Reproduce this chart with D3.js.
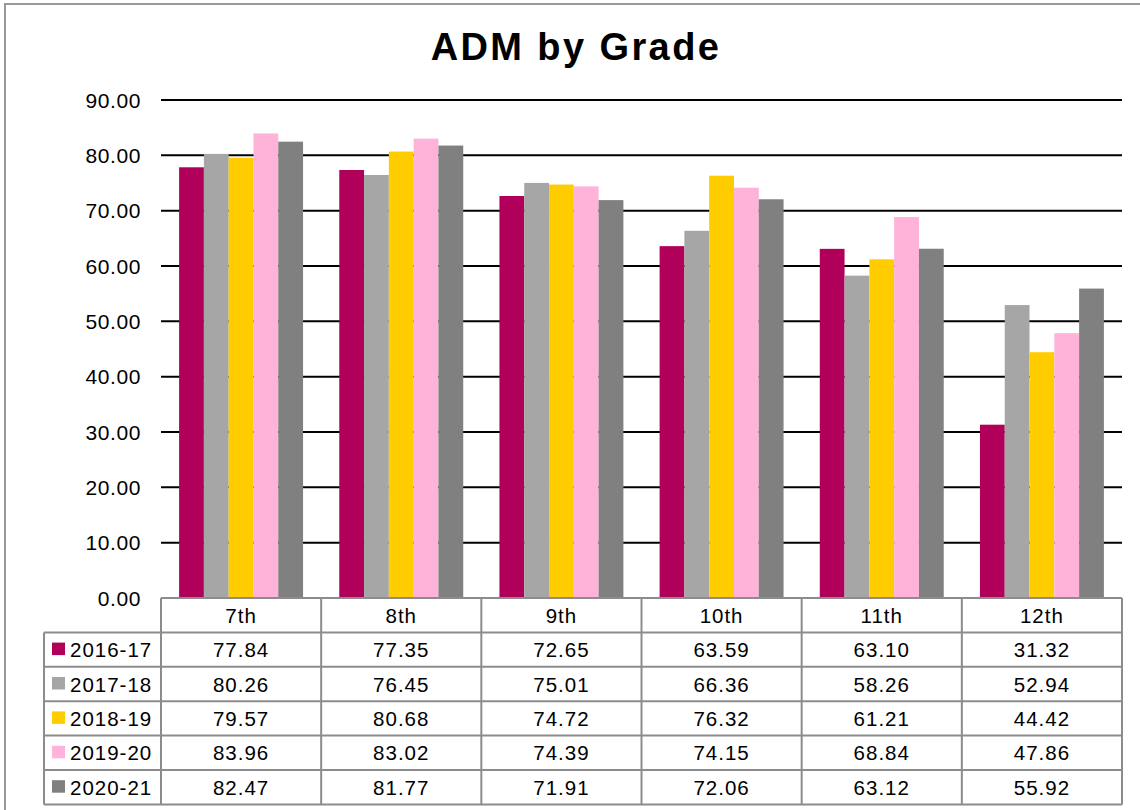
<!DOCTYPE html>
<html>
<head>
<meta charset="utf-8">
<script src="https://cdn.jsdelivr.net/npm/d3@7"></script>
<style>
  body { margin: 0; background: #fff; }
  svg { display: block; font-family: "Liberation Sans", Arial, sans-serif; }
</style>
</head>
<body>
<svg id="chart"></svg>
<script>
const grades = ["7th", "8th", "9th", "10th", "11th", "12th"];
const years = ["2016-17", "2017-18", "2018-19", "2019-20", "2020-21"];
const colors = ["#B0005A", "#A6A6A6", "#FFCC00", "#FFB3D9", "#808080"];
const v2016 = [77.84, 77.35, 72.65, 63.59, 63.10, 31.32];
const v2017 = [80.26, 76.45, 75.01, 66.36, 58.26, 52.94];
const v2018 = [79.57, 80.68, 74.72, 76.32, 61.21, 44.42];
const v2019 = [83.96, 83.02, 74.39, 74.15, 68.84, 47.86];
const v2020 = [82.47, 81.77, 71.91, 72.06, 63.12, 55.92];
const yTicks = [0, 10, 20, 30, 40, 50, 60, 70, 80, 90];

const series = [v2016, v2017, v2018, v2019, v2020];

const W = 1140, H = 810;
const svg = d3.select("#chart").attr("width", W).attr("height", H);

// outer frame
svg.append("rect")
  .attr("x", 5).attr("y", 4).attr("width", W + 10).attr("height", H + 10)
  .attr("fill", "#fff").attr("stroke", "#999").attr("stroke-width", 2);

const plot = { left: 161, right: 1122, top: 100, bottom: 598 };

svg.append("text")
  .attr("x", 576).attr("y", 60)
  .attr("text-anchor", "middle")
  .style("font-size", "38px").style("font-weight", "bold")
  .style("letter-spacing", "2.4px")
  .text("ADM by Grade");

const x = d3.scaleBand().domain(grades).range([plot.left, plot.right]);
const x1 = d3.scaleBand().domain(years).range([0, x.bandwidth()]).paddingOuter(0.73);
const y = d3.scaleLinear().domain([0, 90]).range([plot.bottom, plot.top]);

// gridlines
svg.append("g").selectAll("line")
  .data(yTicks.filter(d => d > 0))
  .join("line")
  .attr("x1", plot.left).attr("x2", plot.right)
  .attr("y1", d => y(d)).attr("y2", d => y(d))
  .attr("stroke", "#000").attr("stroke-width", 2);

// y tick labels
svg.append("g").selectAll("text")
  .data(yTicks)
  .join("text")
  .attr("x", 141).attr("y", d => y(d) + 7.5)
  .attr("text-anchor", "end")
  .style("font-size", "21px")
  .style("letter-spacing", "0.6px")
  .text(d => d.toFixed(2));

// bars
const groups = svg.append("g").selectAll("g")
  .data(grades)
  .join("g")
  .attr("transform", d => `translate(${x(d)},0)`);

groups.selectAll("rect")
  .data((g, gi) => years.map((yr, i) => ({ yr, i, v: series[i][gi] })))
  .join("rect")
  .attr("x", d => x1(d.yr))
  .attr("width", x1.bandwidth())
  .attr("y", d => y(d.v))
  .attr("height", d => y(0) - y(d.v))
  .attr("fill", d => colors[d.i]);

// data table
const tableLeft = 44;
const rowH = 34.4;
const headTop = plot.bottom;
const tbl = svg.append("g");
const lineColor = "#8c8c8c";
const cellFont = "20.5px";

// header row (grades)
tbl.selectAll(".hcell")
  .data(grades)
  .join("text")
  .attr("x", d => x(d) + x.bandwidth() / 2)
  .attr("y", headTop + rowH / 2 + 7.5)
  .attr("text-anchor", "middle")
  .style("font-size", cellFont)
  .style("letter-spacing", "1px")
  .text(d => d);

// value rows
years.forEach((yr, i) => {
  const cy = headTop + rowH * (i + 1) + rowH / 2;
  tbl.append("rect")
    .attr("x", 52).attr("y", cy - 7).attr("width", 13).attr("height", 12.5)
    .attr("fill", colors[i]);
  tbl.append("text")
    .attr("x", 70).attr("y", cy + 7.5)
    .style("font-size", cellFont)
    .style("letter-spacing", "1px")
    .text(yr);
  tbl.selectAll(null)
    .data(grades)
    .join("text")
    .attr("x", d => x(d) + x.bandwidth() / 2)
    .attr("y", cy + 7.5)
    .attr("text-anchor", "middle")
    .style("font-size", cellFont)
    .style("letter-spacing", "1px")
    .text((d, gi) => series[i][gi].toFixed(2));
});

// table lines
const bottom = headTop + rowH * 6;
tbl.append("line")
  .attr("x1", plot.left).attr("x2", plot.right)
  .attr("y1", headTop).attr("y2", headTop)
  .attr("stroke", lineColor).attr("stroke-width", 2);
d3.range(1, 7).forEach(r => {
  tbl.append("line")
    .attr("x1", tableLeft).attr("x2", plot.right)
    .attr("y1", headTop + rowH * r).attr("y2", headTop + rowH * r)
    .attr("stroke", lineColor).attr("stroke-width", 2);
});
tbl.append("line")
  .attr("x1", tableLeft).attr("x2", tableLeft)
  .attr("y1", headTop + rowH).attr("y2", bottom)
  .attr("stroke", lineColor).attr("stroke-width", 2);
grades.concat(["end"]).forEach((g, i) => {
  const xx = i < grades.length ? x(g) : plot.right;
  tbl.append("line")
    .attr("x1", xx).attr("x2", xx)
    .attr("y1", headTop).attr("y2", bottom)
    .attr("stroke", lineColor).attr("stroke-width", 2);
});
</script>
</body>
</html>
